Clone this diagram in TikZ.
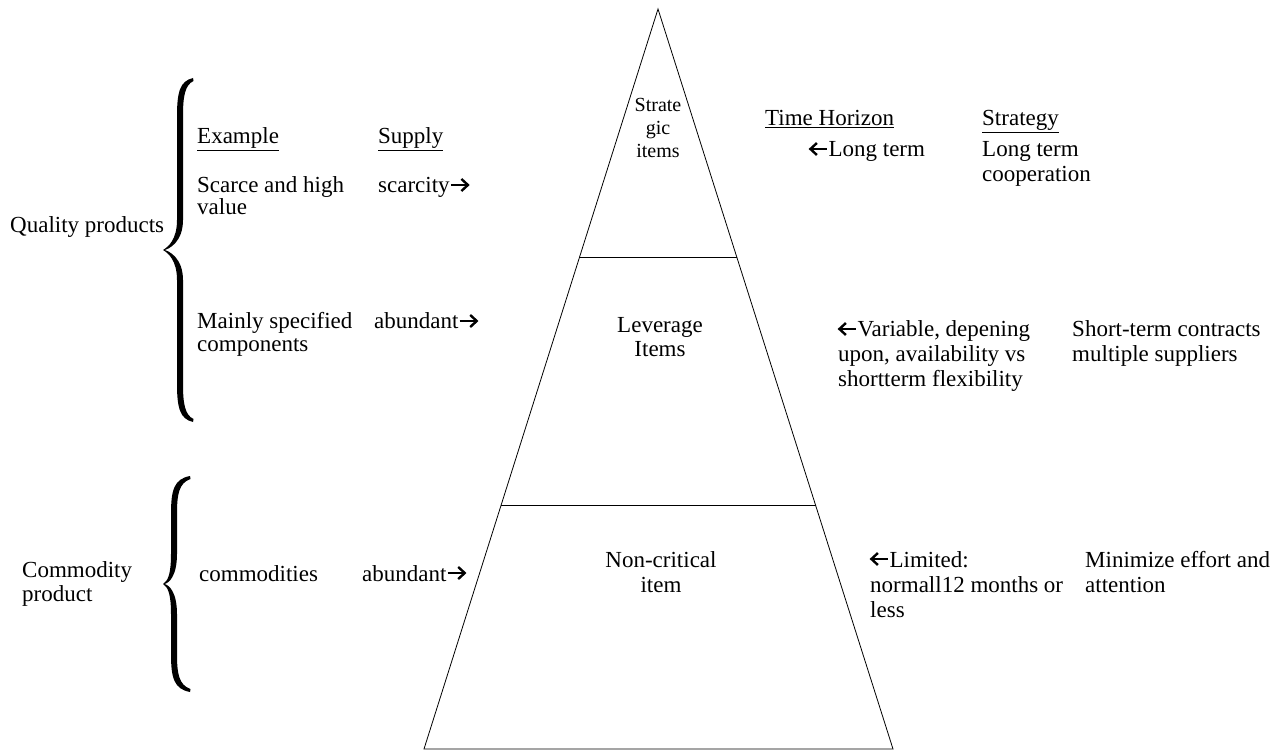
\documentclass[tikz,border=0pt]{standalone}
\usepackage{fontspec}
\setmainfont{Liberation Serif}
\usetikzlibrary{calc}
\newcommand{\mybrace}[5]{% xe, xm, xt, y0, y1
  \pgfmathsetmacro{\ymid}{(#4+#5)/2}
  \fill ({#1},{#4}) .. controls ({#2},{#4+3}) and ({#2-3},{#4+14}) .. ({#2-3},{#4+38})
    -- ({#2-3},{\ymid-30}) .. controls ({#2-3},{\ymid-10}) and ({#3+5},{\ymid-3}) .. ({#3},{\ymid})
    .. controls ({#3+5},{\ymid+3}) and ({#2-3},{\ymid+10}) .. ({#2-3},{\ymid+30})
    -- ({#2-3},{#5-38}) .. controls ({#2-3},{#5-14}) and ({#2},{#5-3}) .. ({#1},{#5})
    -- ({#1+0.5},{#5-3}) .. controls ({#2+5},{#5-7}) and ({#2+3},{#5-18}) .. ({#2+3},{#5-38})
    -- ({#2+3},{\ymid+30}) .. controls ({#2+3},{\ymid+8}) and ({#3+6},{\ymid+1}) .. ({#3+1.5},{\ymid})
    .. controls ({#3+6},{\ymid-1}) and ({#2+3},{\ymid-8}) .. ({#2+3},{\ymid-30})
    -- ({#2+3},{#4+38}) .. controls ({#2+3},{#4+18}) and ({#2+5},{#4+7}) .. ({#1+0.5},{#4+3}) -- cycle;
}
\newcommand{\rarr}{\tikz[baseline={(0pt,-5pt)},line width=2.4pt,x=1pt,y=1pt]{\draw (0,3) -- (17,3); \draw[line join=miter] (10.5,9) -- (17,3) -- (10.5,-3);}}
\newcommand{\larr}{\tikz[baseline={(0pt,-5pt)},line width=2.4pt,x=1pt,y=1pt]{\draw (0,3) -- (17,3); \draw[line join=miter] (6.5,9) -- (0,3) -- (6.5,-3);}}
\begin{document}
\begin{tikzpicture}[x=1pt,y=-1pt,
  txt/.style={anchor=base west,inner sep=0pt,font=\fontsize{23}{24}\selectfont},
  ctxt/.style={anchor=base,inner sep=0pt,font=\fontsize{23}{24}\selectfont},
  stxt/.style={anchor=base,inner sep=0pt,font=\fontsize{20}{23}\selectfont},
  pyr/.style={line width=0.8pt}]
\useasboundingbox (0,0) rectangle (1280,751);
% pyramid
\coordinate (apex) at (658,9);
\coordinate (bl) at (424,749);
\coordinate (br) at (893,749);
\coordinate (l1) at ($(apex)!0.3351!(bl)$);
\coordinate (r1) at ($(apex)!0.3351!(br)$);
\coordinate (l2) at ($(apex)!0.6703!(bl)$);
\coordinate (r2) at ($(apex)!0.6703!(br)$);
\draw[pyr] (apex) -- (bl) -- (br) -- cycle;
\draw[pyr] (l1) -- (r1);
\draw[pyr] (l2) -- (r2);
% braces
\mybrace{193}{180}{163}{78}{422}
\mybrace{190}{174}{163}{476}{692}
% left labels
\node[txt] (qp) at (10,233) {Quality products};
\node[txt] (cp1) at (22,577) {Commodity};
\node[txt] (cp2) at (22,601) {product};
% example column
\node[txt] (ex) at (197,144) {\underline{Example}};
\node[txt] (ex1a) at (197,193) {Scarce and high};
\node[txt] (ex1b) at (197,215) {value};
\node[txt] (ex2a) at (197,329) {Mainly specified};
\node[txt] (ex2b) at (197,352) {components};
\node[txt] (ex3) at (199,581) {commodities};
% supply column
\node[txt] (sp) at (378,144) {\underline{Supply}};
\node[txt] (sp1) at (378,193) {scarcity\rarr};
\node[txt] (sp2) at (374,329) {abundant\rarr};
\node[txt] (sp3) at (362,581) {abundant\rarr};
% pyramid labels
\node[stxt] (st1) at (658,112) {Strate};
\node[stxt] (st2) at (658,135) {gic};
\node[stxt] (st3) at (658,158) {items};
\node[ctxt] (lv1) at (660,333) {Leverage};
\node[ctxt] (lv2) at (660,356) {Items};
\node[ctxt] (nc1) at (661,567) {Non-critical};
\node[ctxt] (nc2) at (661,592) {item};
% time horizon column
\node[txt] (th) at (765,126) {\underline{Time Horizon}};
\node[txt] (th1) at (809,157) {\larr Long term};
\node[txt] (th2a) at (838,337) {\larr Variable, depening};
\node[txt] (th2b) at (838,361) {upon, availability vs};
\node[txt] (th2c) at (838,386) {shortterm flexibility};
\node[txt] (th3a) at (870,567) {\larr Limited:};
\node[txt] (th3b) at (870,592) {normall12 months or};
\node[txt] (th3c) at (870,617) {less};
% strategy column
\node[txt] (sg) at (982,126) {\underline{Strategy}};
\node[txt] (sg1a) at (982,157) {Long term};
\node[txt] (sg1b) at (982,182) {cooperation};
\node[txt] (sg2a) at (1072,337) {Short-term contracts};
\node[txt] (sg2b) at (1072,361) {multiple suppliers};
\node[txt] (sg3a) at (1085,567) {Minimize effort and};
\node[txt] (sg3b) at (1085,592) {attention};
\end{tikzpicture}
\end{document}
